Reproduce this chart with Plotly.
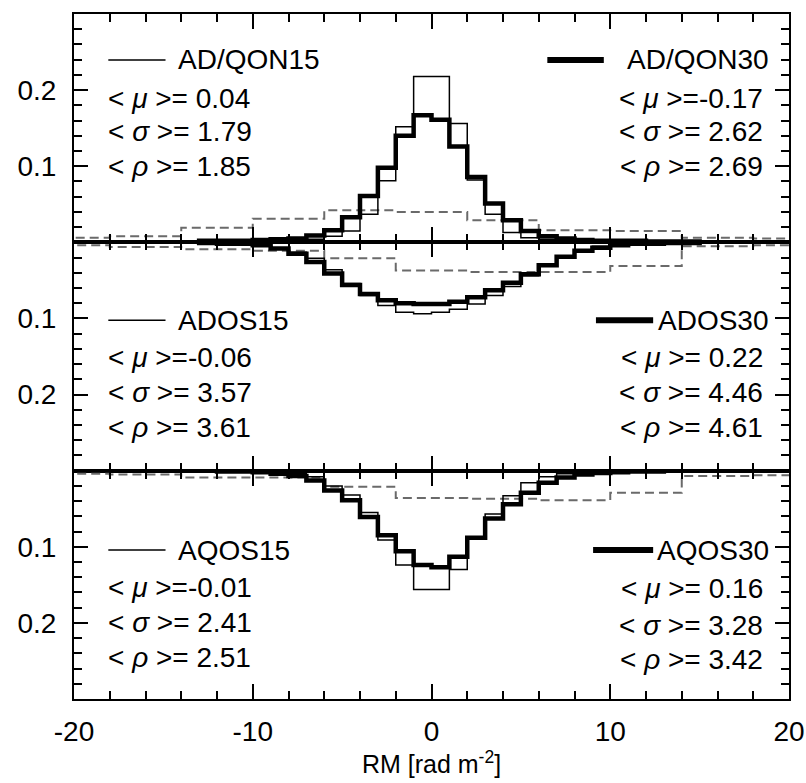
import plotly.graph_objects as go

# ---------------- data ----------------
# fine bins (width 1) from -13 to 15
rm_edges = list(range(-13, 16))
# coarse bins (width 4) from -22 to 22
coarse_edges = list(range(-22, 23, 4))

adqon15 = [0.000, 0.001, 0.001, 0.001, 0.002, 0.002, 0.004, 0.008, 0.015, 0.037,
           0.081, 0.152, 0.218, 0.218, 0.156, 0.082, 0.037, 0.013, 0.006, 0.004,
           0.002, 0.002, 0.001, 0.001, 0.001, 0.000, 0.000, 0.000]
adqon30 = [0.002, 0.002, 0.002, 0.003, 0.004, 0.005, 0.009, 0.016, 0.033, 0.061,
           0.098, 0.140, 0.167, 0.161, 0.126, 0.086, 0.051, 0.029, 0.015, 0.008,
           0.005, 0.003, 0.002, 0.002, 0.002, 0.001, 0.001, 0.001]
ados15 = [0.000, 0.001, 0.002, 0.004, 0.007, 0.013, 0.021, 0.036, 0.054, 0.070,
          0.083, 0.092, 0.094, 0.092, 0.088, 0.081, 0.070, 0.058, 0.044, 0.030,
          0.018, 0.010, 0.005, 0.003, 0.001, 0.001, 0.000, 0.000]
ados30 = [0.001, 0.002, 0.002, 0.004, 0.008, 0.015, 0.026, 0.041, 0.056, 0.068,
          0.076, 0.080, 0.081, 0.081, 0.078, 0.072, 0.063, 0.053, 0.042, 0.030,
          0.019, 0.011, 0.007, 0.004, 0.002, 0.002, 0.001, 0.001]
aqos15 = [0.000, 0.000, 0.001, 0.001, 0.002, 0.004, 0.008, 0.020, 0.032, 0.055,
          0.091, 0.124, 0.156, 0.156, 0.130, 0.090, 0.057, 0.033, 0.016, 0.008,
          0.004, 0.002, 0.001, 0.001, 0.000, 0.000, 0.000, 0.000]
aqos30 = [0.000, 0.001, 0.001, 0.002, 0.004, 0.007, 0.013, 0.026, 0.039, 0.061,
          0.085, 0.106, 0.124, 0.127, 0.113, 0.088, 0.063, 0.044, 0.029, 0.016,
          0.009, 0.005, 0.003, 0.002, 0.001, 0.001, 0.000, 0.000]

dashed_top = [0.006, 0.008, 0.019, 0.031, 0.042, 0.040, 0.029, 0.016, 0.015, 0.006, 0.005]
dashed_mid = [0.004, 0.006, 0.009, 0.011, 0.021, 0.037, 0.039, 0.039, 0.031, 0.005, 0.004]
dashed_bot = [0.004, 0.005, 0.009, 0.009, 0.021, 0.036, 0.037, 0.039, 0.029, 0.007, 0.006]

labels15 = ["AD/QON15", "ADOS15", "AQOS15"]
labels30 = ["AD/QON30", "ADOS30", "AQOS30"]
stats15 = [("0.04", "1.79", "1.85"), ("-0.06", "3.57", "3.61"), ("-0.01", "2.41", "2.51")]
stats30 = [("-0.17", "2.62", "2.69"), ("0.22", "4.46", "4.61"), ("0.16", "3.28", "3.42")]

x_ticks = [-20, -10, 0, 10, 20]
x_ticktext = ["-20", "-10", "0", "10", "20"]
y_ticks = [0.1, 0.2]
y_ticktext = ["0.1", "0.2"]


def step(edges, vals):
    xs = [edges[0]] + list(edges) + [edges[-1]]
    ys = [0] + list(vals) + [vals[-1], 0]
    return xs, ys


fig = go.Figure()

panels = [
    ("x", "y", dashed_top, adqon15, adqon30),
    ("x2", "y2", dashed_mid, ados15, ados30),
    ("x3", "y3", dashed_bot, aqos15, aqos30),
]
for xa, ya, dsh, thin, thick in panels:
    x, y = step(coarse_edges, dsh)
    fig.add_trace(go.Scatter(x=x, y=y, xaxis=xa, yaxis=ya, mode="lines",
                             line=dict(shape="hv", color="#6a6a6a", width=2, dash="9px,5px"),
                             showlegend=False, hoverinfo="skip"))
    x, y = step(rm_edges, thin)
    fig.add_trace(go.Scatter(x=x, y=y, xaxis=xa, yaxis=ya, mode="lines",
                             line=dict(shape="hv", color="black", width=1.5),
                             showlegend=False, hoverinfo="skip"))
    x, y = step(rm_edges, thick)
    fig.add_trace(go.Scatter(x=x, y=y, xaxis=xa, yaxis=ya, mode="lines",
                             line=dict(shape="hv", color="black", width=4.5),
                             showlegend=False, hoverinfo="skip"))

FONT = "Liberation Sans, Arial, sans-serif"

xcommon = dict(range=[-20, 20], showline=True, linecolor="black", linewidth=2,
               mirror="ticks", ticks="inside", tickmode="array", tickvals=x_ticks,
               ticktext=x_ticktext, automargin=False,
               ticklen=15, tickwidth=1.5, tickcolor="black",
               minor=dict(ticks="inside", ticklen=8, tickmode="linear", tick0=0, dtick=2,
                          tickwidth=1.5, tickcolor="black"),
               showgrid=False, zeroline=False)
ycommon = dict(showline=True, linecolor="black", linewidth=2,
               mirror="ticks", ticks="inside", tickmode="array", tickvals=y_ticks,
               ticktext=y_ticktext, automargin=False,
               ticklen=14, tickwidth=1.5, tickcolor="black",
               minor=dict(ticks="inside", ticklen=8, tickmode="linear", tick0=0, dtick=0.02,
                          tickwidth=1.5, tickcolor="black"),
               showgrid=False, zeroline=False, ticklabelstandoff=10,
               tickfont=dict(family=FONT, size=28, color="black"))

fig.update_layout(
    width=806, height=783,
    margin=dict(l=74, r=17, t=14, b=84),
    paper_bgcolor="white", plot_bgcolor="white",
    font=dict(family=FONT, size=27, color="black"),
    xaxis=dict(**xcommon, anchor="y", showticklabels=False),
    xaxis2=dict(**xcommon, anchor="y2", matches="x", showticklabels=False),
    xaxis3=dict(**xcommon, anchor="y3", matches="x", showticklabels=True,
                tickfont=dict(family=FONT, size=28, color="black"),
                ticklabelstandoff=6, ticklabeloverflow="allow",
                title=dict(text="RM [rad m<sup>-2</sup>]", standoff=2,
                           font=dict(family=FONT, size=25, color="black"))),
    yaxis=dict(**ycommon, domain=[2 / 3, 1], range=[0, 0.3]),
    yaxis2=dict(**ycommon, domain=[1 / 3, 2 / 3], range=[0.3, 0]),
    yaxis3=dict(**ycommon, domain=[0, 1 / 3], range=[0.3, 0]),
)

# legend samples and stats text (paper coordinates)
label_y = [0.933, 0.553, 0.2175]
stat_y_left = [[0.877, 0.828, 0.777], [0.499, 0.447, 0.397], [0.1635, 0.111, 0.060]]
stat_y_right = [[0.877, 0.828, 0.777], [0.499, 0.447, 0.397], [0.162, 0.108, 0.057]]
thick_x = [(0.662, 0.741), (0.730, 0.810), (0.726, 0.810)]
greek = ["μ", "σ", "ρ"]

annotations = []
shapes = []
for i in range(3):
    shapes.append(dict(type="line", xref="paper", yref="paper", x0=0.048, x1=0.128,
                       y0=label_y[i], y1=label_y[i], line=dict(color="black", width=1.5)))
    shapes.append(dict(type="line", xref="paper", yref="paper", x0=thick_x[i][0], x1=thick_x[i][1],
                       y0=label_y[i], y1=label_y[i], line=dict(color="black", width=6)))
    annotations.append(dict(xref="paper", yref="paper", x=0.143, y=label_y[i], text=labels15[i],
                            showarrow=False, xanchor="left", yanchor="middle",
                            font=dict(family=FONT, size=28)))
    annotations.append(dict(xref="paper", yref="paper", x=0.975, y=label_y[i], text=labels30[i],
                            showarrow=False, xanchor="right", yanchor="middle",
                            font=dict(family=FONT, size=28)))
    for k in range(3):
        v = stats15[i][k]
        sep = "=" if v.startswith("-") else "= "
        annotations.append(dict(xref="paper", yref="paper", x=0.045, y=stat_y_left[i][k],
                                text=f"&lt; <i>{greek[k]}</i> &gt;{sep}{v}",
                                showarrow=False, xanchor="left", yanchor="middle",
                                font=dict(family=FONT, size=28)))
        v = stats30[i][k]
        sep = "=" if v.startswith("-") else "= "
        annotations.append(dict(xref="paper", yref="paper", x=0.966, y=stat_y_right[i][k],
                                text=f"&lt; <i>{greek[k]}</i> &gt;{sep}{v}",
                                showarrow=False, xanchor="right", yanchor="middle",
                                font=dict(family=FONT, size=28)))

fig.update_layout(annotations=annotations, shapes=shapes)

fig.write_html("out.html")
